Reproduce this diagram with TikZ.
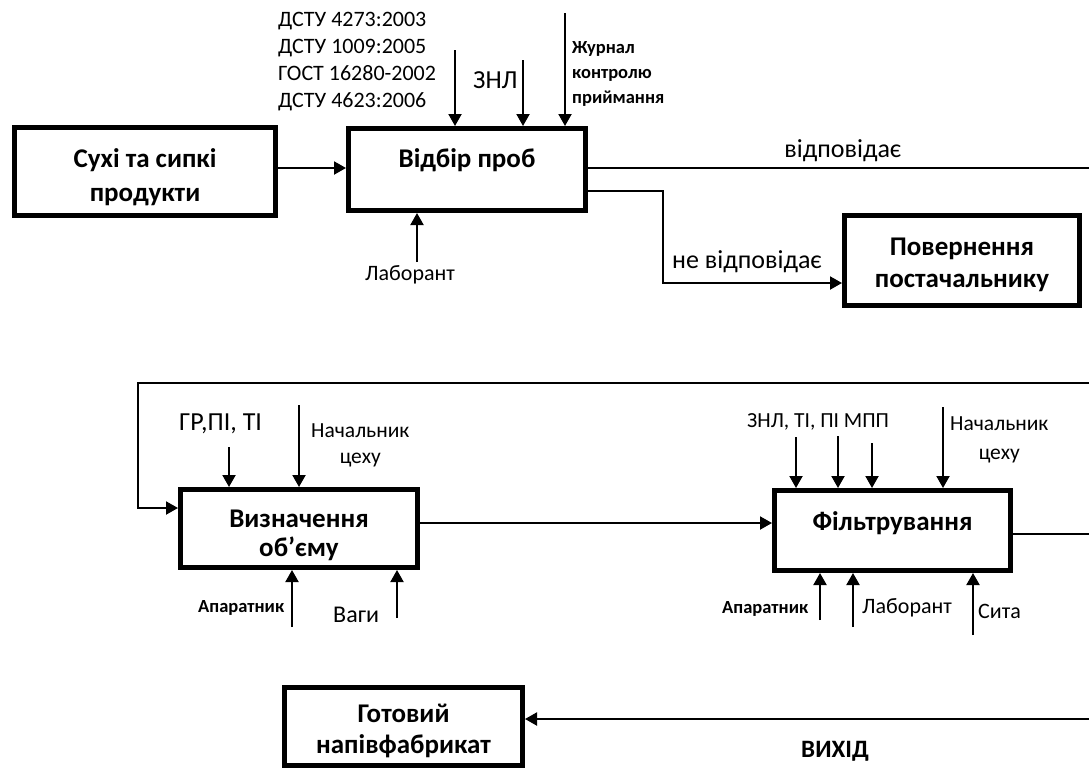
\documentclass[tikz,border=0pt]{standalone}
\usepackage{fontspec}
\setmainfont{Carlito}
\usetikzlibrary{arrows.meta}
\begin{document}
\begin{tikzpicture}[x=1pt,y=-1pt,
  proc/.style={draw, line width=5pt, inner sep=0pt},
  boxtext/.style={font=\fontsize{27}{33}\selectfont\bfseries, align=center, anchor=base, inner sep=0pt},
  std/.style={font=\fontsize{22}{26.7}\selectfont, inner sep=0pt, anchor=base west, align=left},
  lbl/.style={font=\fontsize{22}{24}\selectfont, inner sep=0pt, anchor=base west},
  biglbl/.style={font=\fontsize{26}{30}\selectfont, inner sep=0pt},
  boldlbl/.style={font=\fontsize{18.5}{25}\selectfont\bfseries, inner sep=0pt, anchor=base west, align=left},
  flow/.style={line width=2pt, -{Triangle[length=12pt,width=13pt]}},
  wire/.style={line width=2pt},
  thinwire/.style={line width=1.5pt},
]
\useasboundingbox (0,0) rectangle (1089,769);

% process boxes
\node[proc, minimum width=261, minimum height=88] (b1) at (145,171.5) {};
\node[proc, minimum width=237, minimum height=82] (b2) at (467,169.5) {};
\node[proc, minimum width=235, minimum height=90] (b3) at (962,260.5) {};
\node[proc, minimum width=237, minimum height=78] (b4) at (299,528.5) {};
\node[proc, minimum width=236, minimum height=80] (b5) at (892.5,530.5) {};
\node[proc, minimum width=238, minimum height=78] (b6) at (403.5,726.5) {};

% box captions (anchored on the baseline of their last line)
\node[boxtext, font=\fontsize{27}{34}\selectfont\bfseries] (t1) at (145,201) {Сухі та сипкі\\продукти};
\node[boxtext] (t2) at (467,167) {Відбір проб};
\node[boxtext, font=\fontsize{27}{32}\selectfont\bfseries] (t3) at (962,287) {Повернення\\постачальнику};
\node[boxtext, font=\fontsize{27}{29}\selectfont\bfseries] (t4) at (299,556) {Визначення\\об’єму};
\node[boxtext] (t5) at (892.5,530) {Фільтрування};
\node[boxtext, font=\fontsize{27}{31}\selectfont\bfseries] (t6) at (403.5,753) {Готовий\\напівфабрикат};

% main flow
\draw[flow] (b1.east |- 0,168) -- (b2.west |- 0,168);
\coordinate (okR) at (1089,168);
\draw[thinwire] (b2.east |- okR) -- (okR);
\node[biglbl, anchor=base] (ok) at (843,157) {відповідає};
\draw[flow] (b2.east |- 0,191) -- (663,191) -- (663,283) -- (b3.west |- 0,283);
\node[biglbl, anchor=base west] (nok) at (672,268) {не відповідає};

\coordinate (fbR) at (1089,383);
\draw[flow] (fbR) -- (138,383) -- (138,508) -- (b4.west |- 0,508);
\draw[flow] (b4.east |- 0,523) -- (b5.west |- 0,523);
\coordinate (outR) at (1089,534);
\draw[wire] (b5.east |- outR) -- (outR);
\coordinate (inR) at (1089,719);
\draw[flow] (inR) -- (b6.east |- inR);
\node[font=\fontsize{25}{30}\selectfont\bfseries, inner sep=0pt, anchor=base] (out) at (835,757) {ВИХІД};

% controls and mechanisms of the sampling step
\node[std] (norms) at (278,107) {ДСТУ 4273:2003\\ДСТУ 1009:2005\\ГОСТ 16280-2002\\ДСТУ 4623:2006};
\coordinate (c21) at (455,50);
\coordinate (c22) at (523,60);
\coordinate (c23) at (565,13);
\draw[flow] (c21) -- (c21 |- b2.north);
\draw[flow] (c22) -- (c22 |- b2.north);
\draw[flow] (c23) -- (c23 |- b2.north);
\node[biglbl, anchor=base west] (znl) at (473,88) {ЗНЛ};
\node[boldlbl] (jour) at (572,103) {Журнал\\контролю\\приймання};
\coordinate (m21) at (417,262);
\draw[flow] (m21) -- (m21 |- b2.south);
\node[lbl] (lab1) at (365,280) {Лаборант};

% volume step
\node[font=\fontsize{26}{30}\selectfont, inner sep=0pt, anchor=base west] (gr) at (179,430) {ГР,ПІ, ТІ};
\coordinate (c41) at (229,447);
\coordinate (c42) at (299,405);
\draw[flow] (c41) -- (c41 |- b4.north);
\draw[flow] (c42) -- (c42 |- b4.north);
\node[font=\fontsize{21.5}{26}\selectfont, inner sep=0pt, anchor=base west, align=center] (chief1) at (311,463) {Начальник\\цеху};
\coordinate (m41) at (292,627);
\coordinate (m42) at (397,618);
\draw[flow] (m41) -- (m41 |- b4.south);
\draw[flow] (m42) -- (m42 |- b4.south);
\node[boldlbl] (op1) at (198,612) {Апаратник};
\node[font=\fontsize{24}{28}\selectfont, inner sep=0pt, anchor=base west] (scales) at (333,622) {Ваги};

% filtering step
\node[font=\fontsize{21.5}{26}\selectfont, inner sep=0pt, anchor=base west] (docs5) at (747,427) {ЗНЛ, ТІ, ПІ МПП};
\coordinate (c51) at (796,437);
\coordinate (c52) at (838,436);
\coordinate (c53) at (872,443);
\coordinate (c54) at (943,407);
\draw[flow] (c51) -- (c51 |- b5.north);
\draw[flow] (c52) -- (c52 |- b5.north);
\draw[flow] (c53) -- (c53 |- b5.north);
\draw[flow] (c54) -- (c54 |- b5.north);
\node[font=\fontsize{21.5}{29}\selectfont, inner sep=0pt, anchor=base west, align=center] (chief2) at (950,459) {Начальник\\цеху};
\coordinate (m51) at (820,620);
\coordinate (m52) at (853,627);
\coordinate (m53) at (973,635);
\draw[flow] (m51) -- (m51 |- b5.south);
\draw[flow] (m52) -- (m52 |- b5.south);
\draw[flow] (m53) -- (m53 |- b5.south);
\node[boldlbl] (op2) at (722,613) {Апаратник};
\node[lbl] (lab2) at (862,613) {Лаборант};
\node[lbl] (sieve) at (978,618) {Сита};
\end{tikzpicture}
\end{document}
